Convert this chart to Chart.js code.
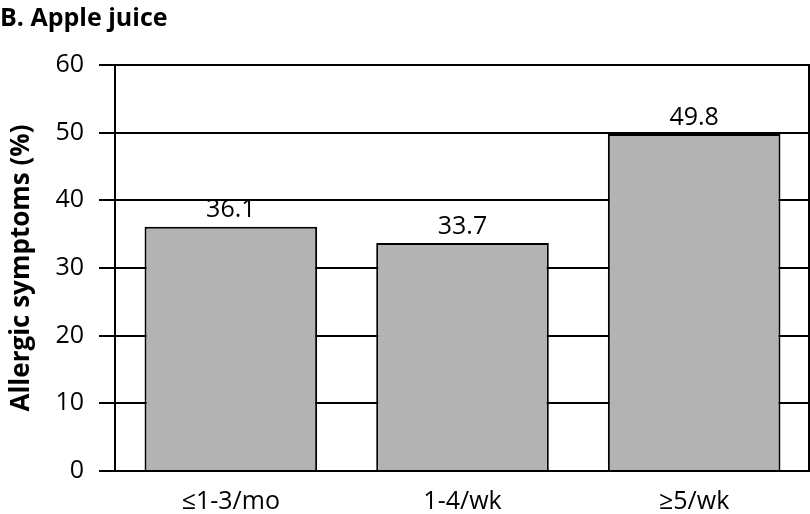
<!DOCTYPE html>
<html>
<head>
<meta charset="utf-8">
<script src="https://cdn.jsdelivr.net/npm/chart.js@4/dist/chart.umd.min.js"></script>
<style>
  html, body { margin: 0; padding: 0; background: #fff; }
  #wrap { width: 810px; height: 514px; }
</style>
</head>
<body>
<div id="wrap"><canvas id="grafico" width="810" height="514"></canvas></div>
<script>
// datos del grafico
const categorias = ['≤1-3/mo', '1-4/wk', '≥5/wk'];
const sintomas = [36.1, 33.7, 49.8];
const ticksY = [0, 10, 20, 30, 40, 50, 60];

const fuente = '"Open Sans", "Noto Sans", sans-serif';

// etiquetas encima de las barras + borde derecho
const etiquetasPlugin = {
    id: 'etiquetas',
    afterDatasetsDraw(chart) {
        const ctx = chart.ctx;
        const meta = chart.getDatasetMeta(0);
        ctx.save();
        ctx.font = '25px ' + fuente;
        ctx.fillStyle = '#000';
        ctx.textAlign = 'center';
        ctx.textBaseline = 'bottom';
        meta.data.forEach((bar, i) => {
            ctx.fillText(sintomas[i].toFixed(1), bar.x, bar.y - 4);
        });
        const a = chart.chartArea;
        ctx.strokeStyle = '#000';
        ctx.lineWidth = 2;
        ctx.beginPath();
        ctx.moveTo(a.right - 1, a.top);
        ctx.lineTo(a.right - 1, a.bottom);
        ctx.stroke();
        ctx.restore();
    }
};

new Chart(document.getElementById('grafico'), {
    type: 'bar',
    data: {
        labels: categorias,
        datasets: [{
            data: sintomas,
            backgroundColor: '#b3b3b3',
            borderColor: '#000',
            borderWidth: 2,
            categoryPercentage: 0.745,
            barPercentage: 1
        }]
    },
    options: {
        responsive: false,
        animation: false,
        layout: { padding: { left: 0, right: 0, top: 0, bottom: 0 } },
        plugins: {
            legend: { display: false },
            tooltip: { enabled: false },
            title: {
                display: true,
                text: 'B. Apple juice',
                align: 'start',
                color: '#000',
                font: { family: fuente, size: 25, weight: 'bold', lineHeight: 1.2 },
                padding: { top: 4, bottom: 31 }
            }
        },
        scales: {
            x: {
                grid: { display: false },
                border: { display: true, color: '#000', width: 2 },
                ticks: {
                    color: '#000',
                    font: { family: fuente, size: 25 },
                    padding: 8
                },
                afterFit(scale) { scale.height = 43; }
            },
            y: {
                min: 0,
                max: 60,
                afterBuildTicks(scale) {
                    scale.ticks = ticksY.map(v => ({ value: v }));
                },
                grid: {
                    color: '#000',
                    lineWidth: 2,
                    tickLength: 16,
                    drawTicks: true
                },
                border: { display: true, color: '#000', width: 2 },
                ticks: {
                    color: '#000',
                    font: { family: fuente, size: 25 },
                    padding: 15
                },
                title: {
                    display: true,
                    text: 'Allergic symptoms (%)',
                    color: '#000',
                    font: { family: fuente, size: 26, weight: 'bold' },
                    padding: { top: 6, bottom: 0 }
                },
                afterFit(scale) { scale.width = 115; }
            }
        }
    },
    plugins: [etiquetasPlugin]
});
</script>
</body>
</html>
